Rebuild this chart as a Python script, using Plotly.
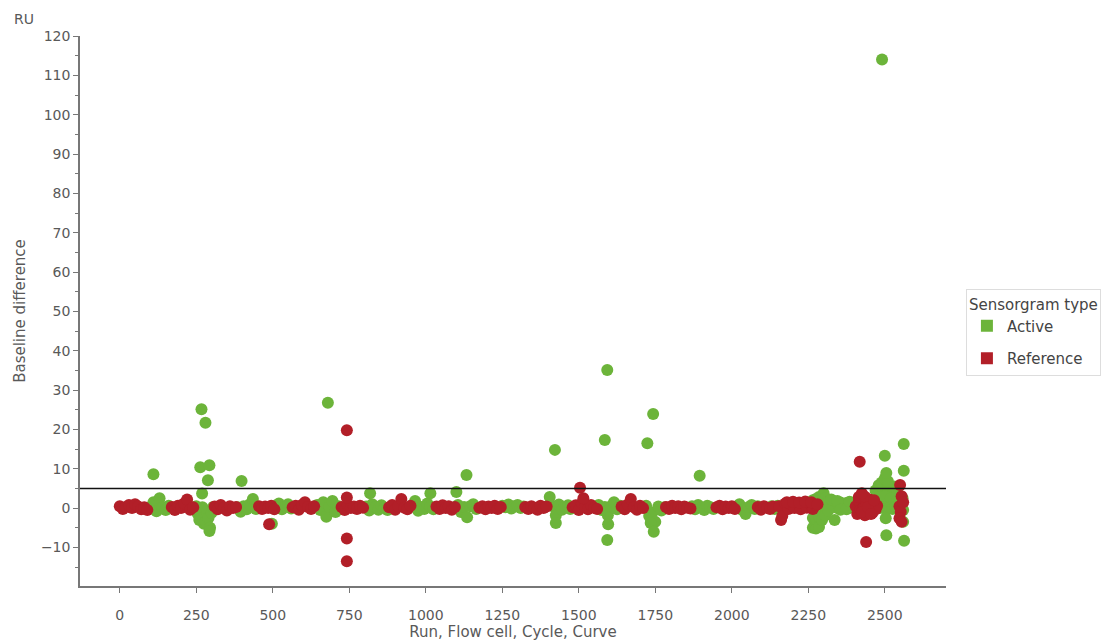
import plotly.graph_objects as go

# ---------------- data ----------------
# Active sensorgrams: baseline band, dense blocks and outliers
active_band_x = [100,110,120,130,140,150,160,168,
                 250,255,260,265,270,275,280,285,290,295,300,305,
                 385,395,405,415,425,435,445,
                 497,510,520,530,540,550,560,
                 645,655,665,675,685,695,705,715,722,
                 805,815,825,835,845,855,865,875,
                 955,965,975,985,995,1005,1015,1025,
                 1105,1115,1125,1135,1145,1155,1165,
                 1250,1260,1270,1280,1290,1300,1310,1320,
                 1405,1415,1425,1435,1445,1455,1465,1472,
                 1565,1575,1585,1595,1605,1615,1625,1635,
                 1720,1730,1740,1750,1760,1770,1780,
                 1870,1880,1890,1900,1910,1920,1930,1940,
                 2015,2025,2035,2045,2055,2065,2075,2085,
                 2130,2140,2150]
active_band_y = [0.3,1.5,-0.8,2.5,0.2,-0.5,0.6,0.1,
                 0.5,-1.5,-3.0,-2.0,0.2,-4.0,-3.5,-1.0,-2.5,-5.0,-1.2,0.3,
                 0.2,-0.9,0.5,-0.3,1.0,2.3,-0.2,
                 -4.0,0.6,1.2,-0.3,0.4,1.0,-0.1,
                 0.8,-0.5,1.5,-2.2,0.3,1.8,-1.0,0.5,-0.3,
                 0.4,-0.6,1.0,0.2,-0.4,0.7,0.1,-0.5,
                 0.5,1.8,-0.7,0.3,-0.2,1.2,0.4,-0.3,
                 0.8,-1.0,0.3,-2.3,0.5,1.0,-0.2,
                 0.6,0.2,0.9,-0.1,0.5,0.8,0.0,0.4,
                 2.8,0.5,-1.8,0.9,-0.4,0.3,0.7,-0.2,
                 0.8,-0.5,0.3,-1.8,0.5,1.5,-0.3,0.6,
                 0.6,-2.0,-1.2,-3.5,0.4,-0.6,0.2,
                 0.5,-0.3,0.8,0.1,-0.5,0.6,0.2,-0.2,
                 0.4,1.0,-0.5,-1.5,0.3,0.8,-0.2,0.5,
                 0.5,-0.2,0.6]
active_block_x = [2265,2265,2265,2265,2275,2275,2275,2275,2285,2285,2285,2285,
                  2295,2295,2295,2300,2305,2305,2305,
                  2315,2325,2335,2345,2355,2365,2375,2385,2395,
                  2315,2325,2345,2355,2375,2385,2336,
                  2465,2470,2475,2480,2485,2490,2495,2500,2505,2510,2515,2520,
                  2525,2530,2535,2540,2545,2550,
                  2470,2480,2490,2500,2510,2520,2530,2540,
                  2485,2495,2505,2515,2525,2535,2500,2510]
active_block_y = [-5.0,-2.5,0.0,2.0,-5.2,-2.8,-0.3,2.3,-4.8,-2.2,0.2,2.8,
                  -3.0,-0.5,2.0,3.8,-1.8,0.5,2.5,
                  1.5,0.2,1.2,0.0,1.4,0.3,1.3,0.1,0.8,
                  -0.6,2.2,1.8,-0.4,-0.3,1.6,-3.0,
                  0.5,2.0,0.3,3.5,1.0,4.8,2.0,5.5,0.8,3.8,1.5,5.0,
                  0.2,3.0,1.2,4.2,0.6,2.5,
                  4.5,5.8,6.5,3.0,6.0,2.5,5.5,1.8,
                  0.0,0.2,-0.3,0.1,-0.2,0.3,7.5,6.8]
active_out_x = [110,267,280,263,293,288,269,293,398,680,818,1015,1100,1133,
                1422,1425,1585,1593,1596,1593,1724,1743,1735,1745,1895,
                2491,2500,2505,2503,2505,2562,2562,2563,2560,2558,2560]
active_out_y = [8.6,25.1,21.7,10.4,10.9,7.1,3.7,-5.8,6.9,26.8,3.8,3.8,4.1,8.4,
                14.8,-3.8,17.3,35.1,-4.1,-8.1,16.5,23.9,-3.8,-6.0,8.2,
                114.0,13.3,8.9,-2.6,-6.9,16.3,9.5,-8.3,-3.5,2.5,-0.5]

# Reference sensorgrams
reference_band_x = [0,10,20,30,40,50,60,70,80,90,
                    170,180,190,200,210,220,230,240,
                    310,320,330,340,350,360,370,380,
                    455,465,475,485,495,505,
                    565,575,585,595,605,615,625,635,
                    725,735,745,755,765,775,785,795,
                    880,890,900,910,920,930,940,950,
                    1035,1045,1055,1065,1075,1085,1095,
                    1175,1185,1195,1205,1215,1225,1235,1245,
                    1325,1335,1345,1355,1365,1375,1385,1395,
                    1480,1490,1500,1510,1520,1530,1540,1550,1560,
                    1640,1650,1660,1670,1680,1690,1700,1710,
                    1785,1795,1805,1815,1825,1835,1845,1855,1865,
                    1950,1960,1970,1980,1990,2000,2010,
                    2085,2095,2105,2115,2125,2135]
reference_band_y = [0.5,-0.2,0.3,0.8,0.0,1.0,0.4,-0.3,0.2,-0.5,
                    0.3,-0.5,0.6,0.0,1.2,2.2,-0.4,0.2,
                    0.4,-0.3,0.8,0.1,-0.6,0.5,0.0,0.3,
                    0.5,-0.2,0.4,0.0,0.6,-0.3,
                    0.2,0.6,-0.4,0.8,1.5,0.3,-0.2,0.5,
                    0.3,-0.5,0.7,0.0,0.4,-0.2,0.6,0.1,
                    0.2,0.8,-0.4,0.5,2.3,0.1,-0.3,0.6,
                    0.4,-0.2,0.7,0.0,0.5,-0.4,0.3,
                    0.1,0.5,-0.3,0.4,0.0,0.6,-0.2,0.3,
                    0.3,-0.2,0.5,0.1,-0.4,0.6,0.0,0.4,
                    0.2,0.7,-0.5,1.2,0.4,-0.3,0.8,0.1,-0.2,
                    0.4,-0.3,0.9,2.3,0.2,-0.4,0.6,0.0,
                    0.3,-0.2,0.6,0.0,0.5,-0.3,0.4,0.1,-0.1,
                    0.2,0.6,-0.3,0.4,0.0,0.5,-0.2,
                    0.3,-0.4,0.5,0.1,-0.2,0.4]
reference_block_x = [2155,2161,2165,2175,2185,2195,2205,2215,2225,2235,2245,2255,2265,2275,
                     2180,2200,2220,2240,2260,2280,
                     2405,2410,2415,2420,2425,2430,2435,2440,2445,2450,2455,2460,2465,2470,2475,
                     2415,2425,2435,2445,2455,2465,2425,
                     2550,2555,2548,2552,2548,2555,2560]
reference_block_y = [0.5,-3.0,-2.0,1.2,-0.2,1.0,0.0,1.3,-0.3,1.1,0.1,1.2,-0.2,0.8,
                     1.5,1.6,1.4,1.7,1.5,1.0,
                     0.5,-1.5,1.8,-0.5,2.5,0.0,-1.8,1.5,-0.8,2.2,0.3,-1.2,1.0,-0.3,0.6,
                     2.8,-1.0,2.9,0.2,-1.5,2.0,3.8,
                     5.9,3.0,0.5,-1.0,-2.6,-3.5,1.5]
reference_out_x = [488,742,742,742,742,1504,1515,2418,2439]
reference_out_y = [-4.1,19.8,2.7,-7.7,-13.5,5.2,2.5,11.8,-8.6]

threshold = 5
x_ticks = [0,250,500,750,1000,1250,1500,1750,2000,2250,2500]
y_ticks = [-10,0,10,20,30,40,50,60,70,80,90,100,110,120]
y_minor = [-15,-5,5,15,25,35,45,55,65,75,85,95,105,115]

GREEN = "#6cb43a"
RED = "#b21f28"
FONT = "DejaVu Sans"
GRAY = "#595959"

active_x = active_band_x + active_block_x + active_out_x
active_y = active_band_y + active_block_y + active_out_y
reference_x = reference_band_x + reference_block_x + reference_out_x
reference_y = reference_band_y + reference_block_y + reference_out_y

fig = go.Figure()
fig.add_trace(go.Scatter(x=active_x, y=active_y, mode="markers", name="Active",
                         marker=dict(color=GREEN, size=12, line=dict(width=0)),
                         showlegend=False, legendgroup="a"))
fig.add_trace(go.Scatter(x=reference_x, y=reference_y, mode="markers", name="Reference",
                         marker=dict(color=RED, size=12, line=dict(width=0)),
                         showlegend=False, legendgroup="r"))
# legend entries with square swatches
fig.add_trace(go.Scatter(x=[None], y=[None], mode="markers", name="Active",
                         marker=dict(color=GREEN, size=16, symbol="square"), legendgroup="a"))
fig.add_trace(go.Scatter(x=[None], y=[None], mode="markers", name="Reference",
                         marker=dict(color=RED, size=16, symbol="square"), legendgroup="r"))

fig.add_shape(type="line", xref="paper", x0=0, x1=1, yref="y", y0=threshold, y1=threshold,
              line=dict(color="#111111", width=1.5))

fig.add_annotation(text="RU", xref="paper", yref="paper", x=-0.051, y=1.012,
                   xanchor="right", yanchor="bottom", showarrow=False,
                   font=dict(family=FONT, size=14, color=GRAY))

fig.update_layout(
    width=1108, height=634,
    margin=dict(l=72, r=170, t=28, b=56),
    paper_bgcolor="white", plot_bgcolor="white",
    font=dict(family=FONT, size=14, color=GRAY),
    legend=dict(title=dict(text="Sensorgram type", font=dict(size=15, color="#444")),
                x=1.023, xanchor="left", y=0.540, yanchor="top",
                bordercolor="#dddddd", borderwidth=1,
                font=dict(size=15, color="#444"), itemsizing="constant",
                tracegroupgap=10),
    xaxis=dict(range=[-130, 2700], tickvals=x_ticks, showgrid=False, zeroline=False,
               showline=True, linecolor="#777", linewidth=1.5, automargin=False,
               ticks="outside", ticklen=5, tickcolor="#777",
               tickfont=dict(size=14, color=GRAY), ticklabelstandoff=10,
               title=dict(text="Run, Flow cell, Cycle, Curve", font=dict(size=15, color=GRAY), standoff=4)),
    yaxis=dict(range=[-19.8, 120], tickvals=y_ticks, showgrid=False, zeroline=False,
               showline=True, linecolor="#777", linewidth=1.5, automargin=False,
               ticks="outside", ticklen=5, tickcolor="#777",
               tickfont=dict(size=14, color=GRAY),
               minor=dict(tickvals=y_minor, ticks="outside", ticklen=3, tickcolor="#777"),
               title=dict(text="Baseline difference", font=dict(size=15, color=GRAY), standoff=12)),
)

fig.write_html("out.html")
